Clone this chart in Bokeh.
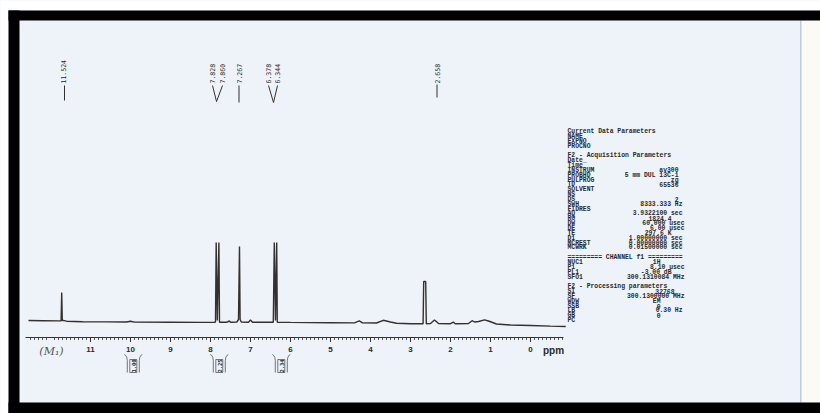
import numpy as np
from bokeh.plotting import figure
from bokeh.models import Range1d, BoxAnnotation
from bokeh.core.properties import value
from bokeh.embed import file_html
from bokeh.resources import INLINE

# ---------------- data ----------------
# spectrum trace vertices: chemical shift (ppm) and intensity (arb. units, baseline ~ 0)
spec_ppm = [12.55, 12.2, 11.8, 11.735, 11.72, 11.705, 11.68, 11.6, 11.2, 10.6, 10.1, 10.0, 9.9,
            9.0, 8.2, 7.9, 7.875, 7.858, 7.83, 7.79, 7.775, 7.6, 7.53, 7.5, 7.34, 7.3, 7.275,
            7.26, 7.23, 7.05, 7.0, 6.95, 6.43, 6.405, 6.375, 6.345, 6.33, 6.0, 5.0, 4.4, 4.28,
            4.2, 3.85, 3.68, 3.5, 3.35, 3.0, 2.72, 2.685, 2.67, 2.62, 2.605, 2.5, 2.4, 2.34,
            2.3, 2.0, 1.93, 1.88, 1.55, 1.46, 1.4, 1.3, 1.15, 1.05, 0.85, 0.5, 0.0, -0.5, -0.88]
spec_int = [2.0, 1.8, 1.6, 1.6, 30.0, 1.8, 2.2, 1.3, 0.8, 0.6, 0.5, 1.2, 0.4,
            0.2, 0.1, 0.2, 0.4, 80.0, 2.0, 80.0, 0.3, 0.2, 1.5, 0.2, 0.5, 3.0, 76.0,
            3.0, 0.5, 0.3, 2.5, 0.3, 0.3, 80.0, 2.0, 80.0, 0.3, 0.1, -0.2, -0.4, 1.6,
            -0.4, -0.5, 2.2, 0.5, -0.8, -1.2, -1.2, -1.2, 41.0, 41.0, -1.2, -1.0, 2.5, 0.5,
            -1.0, -1.2, 0.4, -1.2, -1.0, 1.8, 0.5, 1.0, 2.6, 1.5, -1.5, -2.5, -3.0, -3.6, -4.0]

peak_labels = ["11.524", "7.828", "7.860", "7.267", "6.378", "6.344", "2.658"]
tick_values = [11, 10, 9, 8, 7, 6, 5, 4, 3, 2, 1, 0]
tick_labels = ["11", "10", "9", "8", "7", "6", "5", "4", "3", "2", "1", "0"]
integral_ppm = [9.93, 7.78, 6.23]
integral_values = ["1.00", "2.25", "2.34"]

param_names = ["Current Data Parameters", "NAME", "EXPNO", "PROCNO", "",
               "F2 - Acquisition Parameters", "Date_", "Time", "INSTRUM", "PROBHD",
               "PULPROG", "TD", "SOLVENT", "NS", "DS", "SWH", "FIDRES", "AQ", "RG", "DW",
               "DE", "TE", "D1", "MCREST", "MCWRK", "",
               "========= CHANNEL f1 =========", "NUC1", "P1", "PL1", "SFO1", "",
               "F2 - Processing parameters", "SI", "SF", "WDW", "SSB", "LB", "GB", "PC"]
param_values = ["", "", "", "", "",
                "", "", "", "av300", "5 mm DUL 13C-1",
                "zg", "65536", "", "", "2", "8333.333 Hz", "", "3.9322100 sec", "1824.4", "60.000 usec",
                "6.00 usec", "297.6 K", "1.00000000 sec", "0.00000000 sec", "0.01500000 sec", "",
                "", "1H", "8.10 usec", "-3.00 dB", "300.1310084 MHz", "",
                "", "32768", "300.1300000 MHz", "EM", "0", "0.30 Hz", "0", ""]

# ---------------- page layout helpers (page pixels -> data units) ----------------
X0, XS = 530.0, 40.0      # page x of 0 ppm, pixels per ppm
Y0 = 322.0                # page y of zero intensity


def X(px):
    return (X0 - px) / XS


def Y(py):
    return Y0 - py


FIG_W, FIG_H = 820, 413

p = figure(width=FIG_W, height=FIG_H, output_backend="svg", toolbar_location=None,
           x_axis_type=None, y_axis_type=None,
           x_range=Range1d(X(0), X(FIG_W)), y_range=Range1d(Y(FIG_H), Y(0)),
           min_border_left=0, min_border_right=0, min_border_top=0, min_border_bottom=0)
p.background_fill_color = "#eef2f9"
p.border_fill_color = "#ffffff"
p.outline_line_color = None


def box(x0, x1, y0, y1, color):
    p.add_layout(BoxAnnotation(left=X(x0), right=X(x1), top=Y(y0), bottom=Y(y1),
                               fill_color=color, fill_alpha=1.0, line_color=None))


# scanner frame: white margins, black bands, off-white strip past the paper edge
box(0, 820, 0, 10, "#ffffff")
box(0, 8, 0, 413, "#ffffff")
box(801, 820, 20, 402, "#fbfaf4")
box(799.5, 801, 20, 402, "#c2cbdc")
box(8, 820, 10, 20, "#000000")
box(8, 19, 10, 413, "#000000")
box(8, 820, 402, 413, "#000000")

INK = "#34302d"
TXT = "#2a2a2a"

# ---------------- spectrum ----------------
p.line(spec_ppm, spec_int, line_color=INK, line_width=1.4)

# ---------------- ppm axis (drawn in the plot, as on the paper) ----------------
ax_y = Y(337)
p.line([X(25), X(563)], [ax_y, ax_y], line_color=INK, line_width=1)
minor = [t for t in np.round(np.arange(-0.8, 12.55, 0.1), 2) if abs(t - round(t)) > 1e-6]
p.segment(x0=minor, y0=[ax_y] * len(minor), x1=minor, y1=[Y(339.5)] * len(minor),
          line_color=INK, line_width=0.8)
p.segment(x0=tick_values, y0=[ax_y] * len(tick_values), x1=tick_values,
          y1=[Y(341.5)] * len(tick_values), line_color=INK, line_width=1)
p.text(x=tick_values, y=[Y(349)] * len(tick_values), text=tick_labels,
       text_font=value("Liberation Sans"), text_font_style="bold", text_font_size="8px",
       text_color=TXT, text_align="center", text_baseline="middle")
p.text(x=[X(553)], y=[Y(349.5)], text=["ppm"], text_font=value("Liberation Sans"),
       text_font_style="bold", text_font_size="10px", text_color=TXT,
       text_align="center", text_baseline="middle")

# ---------------- peak labels at the top ----------------
label_px = [62.5, 212, 222, 238.5, 268, 277, 437]
p.text(x=[X(v) for v in label_px], y=[Y(83)] * len(label_px), text=peak_labels,
       angle=np.pi / 2, text_font=value("DejaVu Sans Mono"), text_font_size="6.5px",
       text_color=TXT, text_align="left", text_baseline="middle")
conn_xs = [[64, 64], [212, 216], [222, 216], [238.5, 238.5], [268, 273], [277, 273], [436.5, 436.5]]
conn_ys = [[85, 100], [85, 101], [85, 101], [85, 102], [85, 102], [85, 102], [84, 97]]
p.multi_line(xs=[[X(v) for v in a] for a in conn_xs], ys=[[Y(v) for v in a] for a in conn_ys],
             line_color=INK, line_width=1)

# ---------------- integrals below the axis ----------------
br_xs, br_ys = [], []
for ppm in integral_ppm:
    c = X0 - XS * ppm
    for s in (-1, 1):
        br_xs.append([X(c + s * 9), X(c + s * 7.5), X(c + s * 6.5), X(c + s * 6), X(c + s * 6)])
        br_ys.append([Y(354), Y(355), Y(357), Y(360), Y(372)])
    br_xs.append([X(c - 3.5), X(c + 3.5), X(c + 3.5), X(c - 3.5), X(c - 3.5)])
    br_ys.append([Y(359), Y(359), Y(372), Y(372), Y(359)])
p.multi_line(xs=br_xs, ys=br_ys, line_color="#555555", line_width=0.8)
p.text(x=integral_ppm, y=[Y(365.5)] * len(integral_ppm), text=integral_values,
       angle=np.pi / 2, text_font=value("DejaVu Sans Mono"), text_font_size="5.5px",
       text_font_style="bold", text_color=TXT, text_align="center", text_baseline="middle")

# handwritten compound mark
p.text(x=[X(51)], y=[Y(351)], text=["(M\u2081)"], text_font=value("DejaVu Serif"),
       text_font_style="italic", text_font_size="11px", text_color="#555555",
       text_align="center", text_baseline="middle")

# ---------------- parameter block ----------------
line_y = [131 + i * 4.85 for i in range(len(param_names))]
p.text(x=[X(567)] * len(param_names), y=[Y(v) for v in line_y], text=param_names,
       text_font=value("Liberation Mono"), text_font_style="bold", text_font_size="6.4px",
       text_color=TXT, text_align="left", text_baseline="middle")


def right_edge(i, v):
    if v.endswith("usec") or v.endswith("MHz"):
        return 684
    if v.endswith("sec") or v.endswith("Hz"):
        return 682
    if v.endswith("dB") or v.endswith("K") or v == "1824.4":
        return 671
    if i >= 26:
        return 674 if v == "32768" else 660
    return 678


vi = [i for i, v in enumerate(param_values) if v]
p.text(x=[X(right_edge(i, param_values[i])) for i in vi], y=[Y(line_y[i]) for i in vi],
       text=[param_values[i] for i in vi], text_font=value("Liberation Mono"),
       text_font_style="bold", text_font_size="6.4px", text_color=TXT,
       text_align="right", text_baseline="middle")

open("out.html", "w").write(file_html(p, INLINE))
